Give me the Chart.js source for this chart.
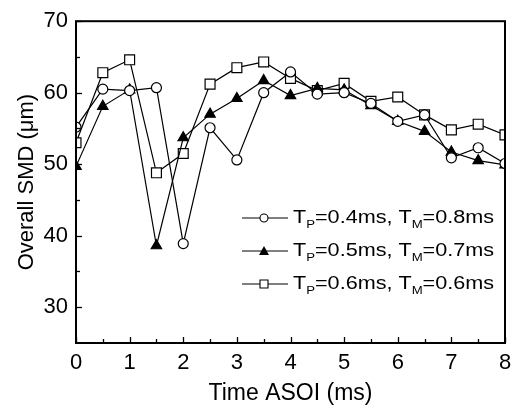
<!DOCTYPE html>
<html>
<head>
<meta charset="utf-8">
<script src="https://cdn.jsdelivr.net/npm/chart.js@4"></script>
<style>
  html, body { margin: 0; padding: 0; background: #fff; }
  #wrap { width: 521px; height: 407px; }
</style>
</head>
<body>
<div id="wrap"><canvas id="chart" width="521" height="407"></canvas></div>
<script>
// time after start of injection (ms)
const timeASOI = [0, 0.5, 1, 1.5, 2, 2.5, 3, 3.5, 4, 4.5, 5, 5.5, 6, 6.5, 7, 7.5, 8];

// overall SMD (um) for each pulse pair
const smdP04 = [55.2, 60.5, 60.3, 60.7, 38.9, 55.1, 50.6, 60.0, 62.9, 59.8, 60.0, 58.5, 56.0, 56.9, 50.9, 52.3, 50.1];
const smdP05 = [49.7, 58.1, 60.4, 38.6, 53.7, 57.0, 59.2, 61.7, 59.6, 60.6, 60.4, 58.2, 56.0, 54.6, 51.7, 50.5, 49.9];
const smdP06 = [53.0, 62.8, 64.6, 48.8, 51.5, 61.2, 63.5, 64.3, 62.0, 60.3, 61.3, 58.8, 59.4, 56.9, 54.8, 55.6, 54.1];

// legend labels: [T_P, T_M]
const pulseLabels = [['0.4ms', '0.8ms'], ['0.5ms', '0.7ms'], ['0.6ms', '0.6ms']];

const xTicks = [0, 1, 2, 3, 4, 5, 6, 7, 8];
const yTicks = [30, 40, 50, 60, 70];

const FONT = '"Liberation Sans", Arial, sans-serif';

function toPoints(ys) {
    return ys.map((y, i) => ({ x: timeASOI[i], y: y }));
}

// small legend marker
function drawMarker(ctx, style, x, y) {
    ctx.save();
    ctx.lineWidth = 1.1;
    ctx.strokeStyle = '#000';
    ctx.beginPath();
    if (style === 'circle') {
        ctx.arc(x, y, 4, 0, Math.PI * 2);
        ctx.fillStyle = '#fff';
        ctx.fill();
        ctx.stroke();
    } else if (style === 'triangle') {
        ctx.moveTo(x, y - 5);
        ctx.lineTo(x + 5, y + 4);
        ctx.lineTo(x - 5, y + 4);
        ctx.closePath();
        ctx.fillStyle = '#000';
        ctx.fill();
    } else {
        ctx.rect(x - 4, y - 4, 8, 8);
        ctx.fillStyle = '#fff';
        ctx.fill();
        ctx.stroke();
    }
    ctx.restore();
}

// frame, inward ticks and legend with subscripts
const framePlugin = {
    id: 'frame',
    afterDraw(chart) {
        const ctx = chart.ctx;
        const area = chart.chartArea;
        const xs = chart.scales.x;
        const ys = chart.scales.y;

        ctx.save();
        ctx.strokeStyle = '#000';
        ctx.lineWidth = 1.3;
        // x ticks
        for (let v = 0; v <= 8; v += 0.5) {
            const px = Math.round(xs.getPixelForValue(v)) + 0.5;
            const len = (v % 1 === 0) ? 6 : 4;
            ctx.beginPath();
            ctx.moveTo(px, area.bottom);
            ctx.lineTo(px, area.bottom - len);
            ctx.stroke();
        }
        // y ticks
        for (let v = 30; v <= 70; v += 5) {
            const py = Math.round(ys.getPixelForValue(v)) + 0.5;
            const len = (v % 10 === 0) ? 6 : 4;
            ctx.beginPath();
            ctx.moveTo(area.left, py);
            ctx.lineTo(area.left + len, py);
            ctx.stroke();
        }
        // box
        ctx.lineWidth = 2;
        ctx.strokeRect(area.left, area.top, area.right - area.left, area.bottom - area.top);

        // legend
        const styles = ['circle', 'triangle', 'rect'];
        const rows = [218, 251, 284];
        rows.forEach((ry, i) => {
            ctx.lineWidth = 1.2;
            ctx.beginPath();
            ctx.moveTo(242, ry);
            ctx.lineTo(288, ry);
            ctx.stroke();
            drawMarker(ctx, styles[i], 264, ry);

            ctx.save();
            ctx.translate(293, ry);
            ctx.scale(1.2, 1);
            ctx.fillStyle = '#000';
            ctx.textBaseline = 'middle';
            let x = 0;
            const big = '18px ' + FONT;
            const small = '11px ' + FONT;
            const parts = [
                ['T', big, 0], ['P', small, 7],
                ['=' + pulseLabels[i][0] + ', T', big, 0], ['M', small, 7],
                ['=' + pulseLabels[i][1], big, 0]
            ];
            parts.forEach(p => {
                ctx.font = p[1];
                ctx.fillText(p[0], x, p[2]);
                x += ctx.measureText(p[0]).width;
            });
            ctx.restore();
        });
        ctx.restore();
    }
};

const common = {
    borderColor: '#000',
    borderWidth: 1.2,
    tension: 0,
    pointBorderColor: '#000',
    pointBorderWidth: 1.2
};

new Chart(document.getElementById('chart').getContext('2d'), {
    type: 'line',
    data: {
        datasets: [
            Object.assign({
                label: 'TP=0.4ms, TM=0.8ms',
                data: toPoints(smdP04),
                pointStyle: 'circle',
                pointRadius: 5,
                pointBackgroundColor: '#fff'
            }, common),
            Object.assign({
                label: 'TP=0.5ms, TM=0.7ms',
                data: toPoints(smdP05),
                pointStyle: 'triangle',
                pointRadius: 6,
                pointBackgroundColor: '#000'
            }, common),
            Object.assign({
                label: 'TP=0.6ms, TM=0.6ms',
                data: toPoints(smdP06),
                pointStyle: 'rect',
                pointRadius: 7,
                pointBackgroundColor: '#fff'
            }, common)
        ]
    },
    options: {
        responsive: false,
        animation: false,
        layout: { padding: { top: 19, right: 16, bottom: 0, left: 0 } },
        plugins: {
            legend: { display: false },
            tooltip: { enabled: false }
        },
        scales: {
            x: {
                type: 'linear',
                min: 0,
                max: 8,
                afterBuildTicks: s => { s.ticks = xTicks.map(v => ({ value: v })); },
                afterFit: s => { s.height = 64; },
                grid: { display: false, drawTicks: false },
                border: { display: false },
                ticks: { color: '#000', font: { family: FONT, size: 22 }, padding: 7, maxRotation: 0 },
                title: {
                    display: true,
                    text: 'Time ASOI (ms)',
                    color: '#000',
                    font: { family: FONT, size: 23 },
                    padding: { top: 0, bottom: 0 }
                }
            },
            y: {
                min: 25,
                max: 70,
                afterBuildTicks: s => { s.ticks = yTicks.map(v => ({ value: v })); },
                afterFit: s => { s.width = 76; },
                grid: { display: false, drawTicks: false },
                border: { display: false },
                ticks: { color: '#000', font: { family: FONT, size: 22 }, padding: 8 },
                title: {
                    display: true,
                    text: 'Overall SMD (\u03bcm)',
                    color: '#000',
                    font: { family: FONT, size: 22 },
                    padding: { top: 14, bottom: 0 }
                }
            }
        }
    },
    plugins: [framePlugin]
});
</script>
</body>
</html>
